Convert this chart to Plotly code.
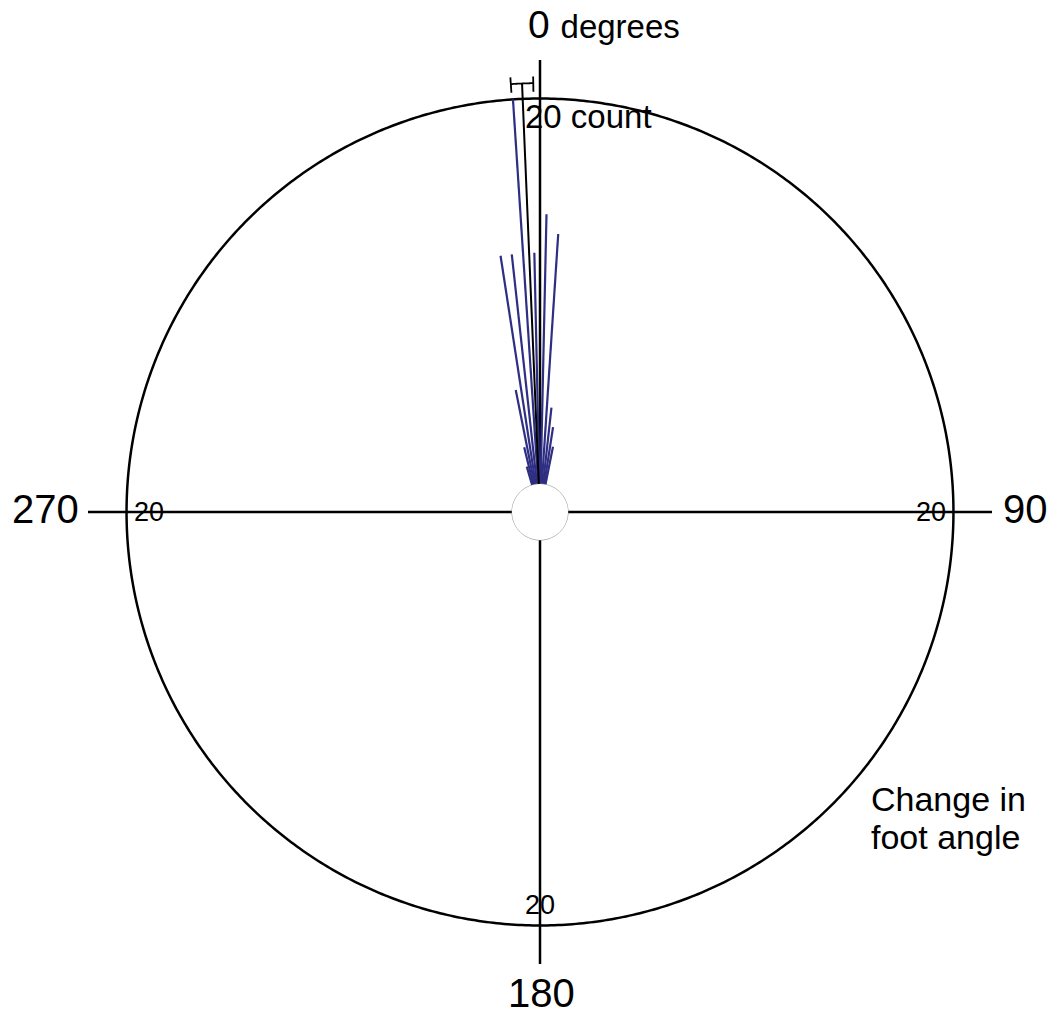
import numpy as np
import plotly.graph_objects as go

# ---- data ----
bin_angles = [-16.25, -13.75, -11.25, -8.75, -6.25, -3.75, -1.25, 1.25, 3.75, 6.25, 8.75, 11.25]
counts = [1, 2, 5, 12, 12, 20, 12, 14, 13, 4, 3, 2]
mean_angle = 357.6      # degrees
ci_half = 1.5           # 95% CI half width, degrees
mean_len = 20.8         # drawn length of mean vector (count units)
ring_count = 20
axis_len = 22
cardinal_angles = [0, 90, 180, 270]

FONT = "Liberation Sans, Arial, sans-serif"
W, H = 1050, 1015

fig = go.Figure()

# axis cross
ar, at = [], []
for a in cardinal_angles:
    ar += [0, axis_len, None]
    at += [a, a, None]
fig.add_trace(go.Scatterpolar(r=ar, theta=at, mode="lines",
                              line=dict(color="black", width=2.5), hoverinfo="skip"))

# outer ring (20 count)
ring_t = np.linspace(0, 360, 721)
fig.add_trace(go.Scatterpolar(r=[ring_count] * len(ring_t), theta=ring_t, mode="lines",
                              line=dict(color="black", width=2.5), hoverinfo="skip"))

# data lines
lr, lt = [], []
for a, c in zip(bin_angles, counts):
    th = a % 360
    lr += [0, c, None]
    lt += [th, th, None]
fig.add_trace(go.Scatterpolar(r=lr, theta=lt, mode="lines",
                              line=dict(color="#2e2e82", width=2.2), hoverinfo="skip"))

# inner hole circle
fig.add_trace(go.Scatterpolar(r=[0] * len(ring_t), theta=ring_t, mode="lines",
                              line=dict(color="#8a8a8a", width=1), hoverinfo="skip"))

# mean vector with CI
fig.add_trace(go.Scatterpolar(r=[0, mean_len], theta=[mean_angle, mean_angle], mode="lines",
                              line=dict(color="black", width=2), hoverinfo="skip"))
ci_t = np.linspace(mean_angle - ci_half, mean_angle + ci_half, 20)
fig.add_trace(go.Scatterpolar(r=[mean_len] * len(ci_t), theta=ci_t, mode="lines",
                              line=dict(color="black", width=1.8), hoverinfo="skip"))
fig.add_trace(go.Scatterpolar(
    r=[mean_len - 0.45, mean_len + 0.35, None, mean_len - 0.45, mean_len + 0.35],
    theta=[mean_angle - ci_half, mean_angle - ci_half, None, mean_angle + ci_half, mean_angle + ci_half],
    mode="lines", line=dict(color="black", width=1.8), hoverinfo="skip"))

cx, cy, R = 540, 512, 452


def px(x):
    return x / W


def py(y):
    return 1 - y / H


ann = []


def add(text, x, y, size, xa="center", ya="middle", align="center"):
    ann.append(dict(text=text, x=px(x), y=py(y), xref="paper", yref="paper",
                    showarrow=False, xanchor=xa, yanchor=ya, align=align,
                    font=dict(family=FONT, size=size, color="black")))


add("0 <span style='font-size:33px'>degrees</span>", 526, 25, 39, xa="left")
add("90", 1025, 509, 40)
add("180", 541, 993, 40)
add("270", 45, 509, 40)
add("20 count", 523, 116, 33, xa="left")
add("20", 132, 512, 27, xa="left")
add("20", 948, 512, 27, xa="right")
add("20", 540, 905, 27)
add("Change in", 869, 799, 34, xa="left", align="left")
add("foot angle", 869, 837, 34, xa="left", align="left")

fig.update_layout(
    width=W, height=H,
    margin=dict(l=0, r=0, t=0, b=0),
    paper_bgcolor="white",
    showlegend=False,
    annotations=ann,
    polar=dict(
        domain=dict(x=[(cx - R) / W, (cx + R) / W], y=[1 - (cy + R) / H, 1 - (cy - R) / H]),
        hole=28 / R,
        bgcolor="white",
        radialaxis=dict(range=[0, axis_len], showline=False, showgrid=False,
                        showticklabels=False, ticks=""),
        angularaxis=dict(rotation=90, direction="clockwise", showline=False,
                         showgrid=False, showticklabels=False, ticks=""),
    ),
)

fig.write_html("out.html", config={"displayModeBar": False},
               post_script="document.body.style.margin='0';")
